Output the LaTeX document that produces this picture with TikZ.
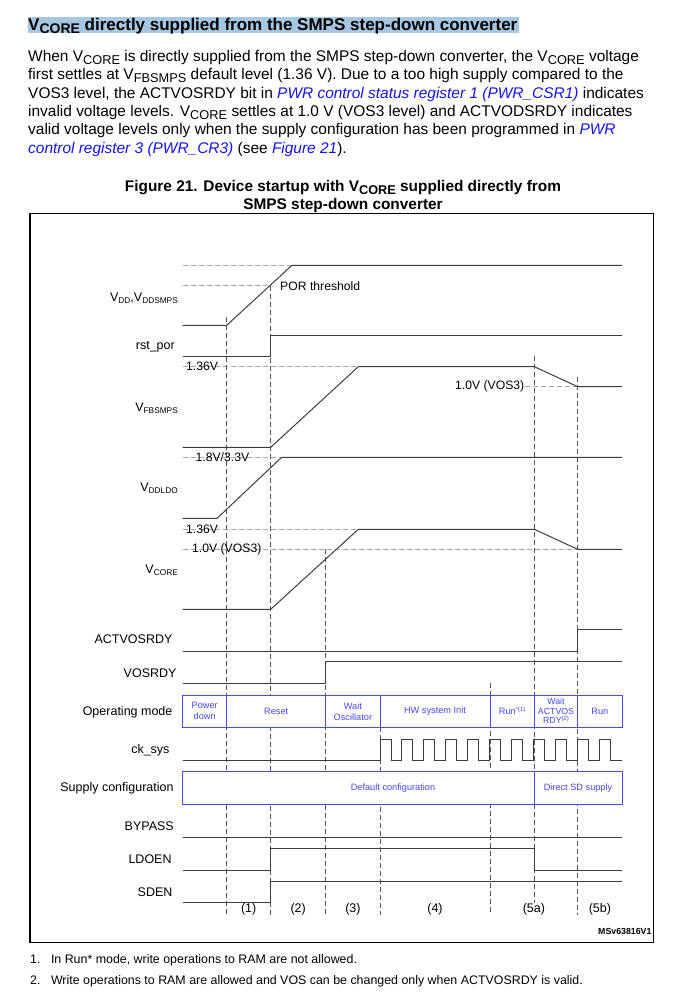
\documentclass[tikz,border=0pt]{standalone}
\usepackage{fontspec}
\setmainfont{Liberation Sans}
\definecolor{hl}{RGB}{166,199,226}
\definecolor{linkblue}{RGB}{20,20,235}
\definecolor{boxblue}{RGB}{70,70,250}
\definecolor{sigc}{RGB}{60,60,60}
\definecolor{vdc}{RGB}{85,85,85}
\definecolor{hdc}{RGB}{165,165,165}
\newcommand\fs[1]{\fontsize{#1}{#1}\selectfont}
\newcommand\lsub[1]{\raisebox{-2.2pt}{\fs{8.3}#1}}
\newcommand\psub[1]{\raisebox{-3pt}{\fs{12.8}#1}}
\newcommand\hsub[1]{\raisebox{-3.5pt}{\fs{14}#1}}
\newcommand\tsub[1]{\raisebox{-3pt}{\fs{12.7}#1}}
\begin{document}
\begin{tikzpicture}[x=1pt,y=-1pt,
  sig/.style={draw=sigc,line width=1pt},
  vdash/.style={draw=vdc,line width=0.9pt,dash pattern=on 5pt off 3pt},
  hdash/.style={draw=hdc,line width=0.9pt,dash pattern=on 5pt off 3pt},
  lbl/.style={anchor=base east,inner sep=0,font=\fs{12.5}},
  val/.style={inner sep=0,font=\fs{12.2}},
  boxline/.style={draw=boxblue,line width=1pt},
  boxtxt/.style={inner sep=0,text=boxblue,font=\fontsize{9.2}{11}\selectfont,align=center},
  para/.style={anchor=base west,inner sep=0,font=\fs{15.45}},
  foot/.style={anchor=base west,inner sep=0,font=\fs{12.4}}]
\useasboundingbox (0,0) rectangle (674,998);
% heading
\fill[hl] (28,17) rectangle (519,33);
\node[anchor=base west,inner sep=0,font=\fs{17}\bfseries] (head) at (28,30.5) {V\hsub{CORE} directly supplied from the SMPS step-down converter};
% paragraph
\node[para] (p1) at (28,61.5) {When V\psub{CORE} is directly supplied from the SMPS step-down converter, the V\psub{CORE} voltage};
\node[para] (p2) at (28,79.8) {first settles at V\psub{FBSMPS} default level (1.36 V). Due to a too high supply compared to the};
\node[para] (p3) at (28,98.1) {VOS3 level, the ACTVOSRDY bit in {\color{linkblue}\itshape PWR control status register 1 (PWR\_CSR1)} indicates};
\node[para] (p4) at (28,116.4) {invalid voltage levels. V\psub{CORE} settles at 1.0 V (VOS3 level) and ACTVODSRDY indicates};
\node[para] (p5) at (28,134.7) {valid voltage levels only when the supply configuration has been programmed in {\color{linkblue}\itshape PWR}};
\node[para] (p6) at (28,153) {{\color{linkblue}\itshape control register 3 (PWR\_CR3)} (see {\color{linkblue}\itshape Figure 21}).};
% title
\node[anchor=base,inner sep=0,font=\fs{15.4}\bfseries] (ti1) at (343,191) {Figure 21. Device startup with V\tsub{CORE} supplied directly from};
\node[anchor=base,inner sep=0,font=\fs{15.4}\bfseries] (ti2) at (343,209) {SMPS step-down converter};
% frame
\draw[black,line width=1.2pt] (30,213.3) rectangle (653.3,942.7);
% horizontal dashed reference levels
\draw[hdash] (182.7,265.3) -- (292,265.3);
\draw[hdash] (182.7,285.7) -- (270.7,285.7);
\draw[hdash] (182.7,366.7) -- (358.3,366.7);
\draw[hdash] (524.5,386.7) -- (577.7,386.7);
\draw[hdash] (182.7,457.3) -- (281.6,457.3);
\draw[hdash] (182.7,529.3) -- (358.3,529.3);
\draw[hdash] (182.7,549.3) -- (577.7,549.3);
% vertical dashed time markers
\draw[vdash] (226.7,316.7) -- (226.7,915);
\draw[vdash] (270.7,285.7) -- (270.7,915);
\draw[vdash] (325.7,549.3) -- (325.7,915);
\draw[vdash] (380,695) -- (380,915);
\draw[vdash] (490,683.3) -- (490,915);
\draw[vdash] (534.3,356) -- (534.3,903);
\draw[vdash] (577.7,376.7) -- (577.7,915);
% signals
\draw[sig] (182.7,325.3) -- (226.7,325.3) -- (292,265.3) -- (622,265.3);
\draw[sig] (182.7,356) -- (270.7,356) -- (270.7,335.7) -- (622,335.7);
\draw[sig] (182.7,447.3) -- (270.7,447.3) -- (358.3,366.7) -- (534.3,366.7) -- (577.7,386.7) -- (622,386.7);
\draw[sig] (182.7,518.3) -- (217.1,518.3) -- (281.6,457.3) -- (622,457.3);
\draw[sig] (182.7,609.3) -- (270.7,609.3) -- (358.3,529.3) -- (534.3,529.3) -- (577.7,549.3) -- (622,549.3);
\draw[sig] (182.7,651) -- (577.7,651) -- (577.7,629) -- (622,629);
\draw[sig] (182.7,683.3) -- (325.7,683.3) -- (325.7,661.7) -- (622,661.7);
\draw[sig] (182.7,760.7) \foreach \k in {0,...,10}{ -- ({380+\k*21.97},760.7) -- ({380+\k*21.97},739) -- ({391+\k*21.97},739) -- ({391+\k*21.97},760.7)} -- (622,760.7);
\draw[sig] (182.7,837.7) -- (622,837.7);
\draw[sig] (182.7,870) -- (270.7,870) -- (270.7,848.7) -- (534.3,848.7) -- (534.3,870) -- (622,870);
\draw[sig] (182.7,902.7) -- (270.7,902.7) -- (270.7,881.3) -- (622,881.3);
% operating mode box
\draw[boxline,fill=white] (182.7,695) rectangle (622,727.7);
\foreach \x in {226.7,325.7,380,490,534.3,577.7} \draw[boxline] (\x,695) -- (\x,727.7);
\node[boxtxt] (m1) at (204.7,711.3) {Power\\down};
\node[boxtxt] (m2) at (276.2,711.3) {Reset};
\node[boxtxt] (m3) at (352.9,711.3) {Wait\\Oscillator};
\node[boxtxt] (m4) at (435,711.3) {HW system Init};
\node[boxtxt] (m5) at (512.2,711.3) {Run\raisebox{3pt}{\fs{6}*(1)}};
\node[boxtxt,font=\fontsize{8.8}{9.8}\selectfont] (m6) at (556,711) {Wait\\ACTVOS\\RDY\raisebox{3pt}{\fs{6}(2)}};
\node[boxtxt] (m7) at (599.9,711.3) {Run};
% supply configuration box
\draw[boxline,fill=white] (182.7,771.7) rectangle (622,804.3);
\draw[boxline] (534.3,771.7) -- (534.3,804.3);
\node[boxtxt] (s1) at (393,788) {Default configuration};
\node[boxtxt] (s2) at (578,788) {Direct SD supply};
% value labels
\node[val,anchor=west] (v1) at (280,285.7) {POR threshold};
\node[val,anchor=west] (v2) at (186,366.7) {1.36V};
\node[val,anchor=east] (v3) at (524.5,386.7) {1.0V (VOS3)};
\node[val,anchor=west] (v4) at (195.4,457.3) {1.8V/3.3V};
\node[val,anchor=west] (v5) at (186,529.3) {1.36V};
\node[val,anchor=west] (v6) at (192,549.3) {1.0V (VOS3)};
% signal names
\node[lbl] (n1) at (178,301) {V\lsub{DD},V\lsub{DDSMPS}};
\node[lbl] (n2) at (175,349.5) {rst\_por};
\node[lbl] (n3) at (178,411) {V\lsub{FBSMPS}};
\node[lbl] (n4) at (178,491) {V\lsub{DDLDO}};
\node[lbl] (n5) at (178,573.5) {V\lsub{CORE}};
\node[lbl] (n6) at (172.6,643.8) {ACTVOSRDY};
\node[lbl] (n7) at (176.7,677.2) {VOSRDY};
\node[lbl] (n8) at (172.6,715) {Operating mode};
\node[lbl] (n9) at (169.7,753.5) {ck\_sys};
\node[lbl] (n10) at (173.8,791) {Supply configuration};
\node[lbl] (n11) at (174,830.2) {BYPASS};
\node[lbl] (n12) at (171.8,863.5) {LDOEN};
\node[lbl] (n13) at (172.6,896.8) {SDEN};
% phase numbers
\foreach \x/\t [count=\i] in {248.7/(1),298.2/(2),352.9/(3),435/(4),533.9/(5a),599.9/(5b)}
  \node[anchor=base,inner sep=0,font=\fs{12.5}] (ph\i) at (\x,912.8) {\t};
\node[anchor=base east,inner sep=0,font=\fs{8.8}\bfseries] (id) at (651.7,934.8) {MSv63816V1};
% footnotes
\node[foot] (f1n) at (30,963) {1.};
\node[foot] (f1) at (50.8,963) {In Run* mode, write operations to RAM are not allowed.};
\node[foot] (f2n) at (30,984) {2.};
\node[foot] (f2) at (50.8,984) {Write operations to RAM are allowed and VOS can be changed only when ACTVOSRDY is valid.};
\end{tikzpicture}
\end{document}
